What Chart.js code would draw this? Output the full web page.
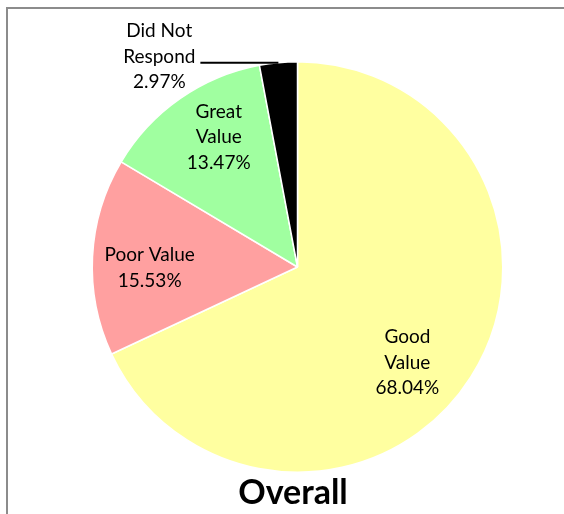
<!DOCTYPE html>
<html>
<head>
<meta charset="utf-8">
<script src="https://cdn.jsdelivr.net/npm/chart.js@4"></script>
<style>
  body { margin: 0; background: #fff; }
  canvas { display: block; }
</style>
</head>
<body>
<canvas id="overall" width="564" height="514"></canvas>
<script>
// data
const categories = [["Good", "Value"], ["Poor Value"], ["Great", "Value"], ["Did Not", "Respond"]];
const percents = [68.04, 15.53, 13.47, 2.97];
const sliceColors = ["#ffffa0", "#ffa0a0", "#a0ffa0", "#000000"];
const chartTitle = "Overall";

const FONT = "Lato, 'Open Sans', sans-serif";

// where each label sits: angle shift from slice middle (deg), distance as fraction of radius
const labelPlace = [
  { shift: 8.6, frac: 0.71 },
  { shift: -3.3, frac: 0.72 },
  { shift: 3.7, frac: 0.74 },
  { outside: true }
];

const labelsPlugin = {
  id: "sliceLabels",
  beforeDraw(chart) {
    const c = chart.ctx;
    c.save();
    c.strokeStyle = "#8c8c8c";
    c.lineWidth = 2;
    c.beginPath();
    c.moveTo(7, 514);
    c.lineTo(7, 8);
    c.lineTo(564, 8);
    c.stroke();
    c.restore();
  },
  afterDraw(chart) {
    const c = chart.ctx;
    const meta = chart.getDatasetMeta(0);
    c.save();
    c.fillStyle = "#000";
    c.font = "19px " + FONT;
    c.textAlign = "center";
    c.textBaseline = "middle";
    const lh = 25.5;
    meta.data.forEach((arc, i) => {
      const lines = categories[i].concat([percents[i].toFixed(2) + "%"]);
      const p = arc.getProps(["x", "y", "startAngle", "endAngle", "outerRadius"], true);
      const mid = (p.startAngle + p.endAngle) / 2;
      const place = labelPlace[i];
      let cx, cy;
      if (place.outside) {
        const ax = p.x + Math.cos(mid) * p.outerRadius;
        const ay = p.y + Math.sin(mid) * p.outerRadius;
        const endX = ax - 78;
        c.strokeStyle = "#000";
        c.lineWidth = 2;
        c.beginPath();
        c.moveTo(ax, ay);
        c.lineTo(endX, ay);
        c.stroke();
        const w = Math.max(...lines.map(l => c.measureText(l).width));
        cx = endX - 5 - w / 2;
        cy = ay - 6;
      } else {
        const a = mid + place.shift * Math.PI / 180;
        cx = p.x + Math.cos(a) * p.outerRadius * place.frac;
        cy = p.y + Math.sin(a) * p.outerRadius * place.frac;
      }
      const top = cy - (lines.length - 1) * lh / 2;
      lines.forEach((l, k) => c.fillText(l, cx, top + k * lh));
    });
    // title
    c.font = "bold 34px " + FONT;
    c.textBaseline = "alphabetic";
    c.fillText(chartTitle, 293, 504);
    c.restore();
  }
};

new Chart(document.getElementById("overall"), {
  type: "pie",
  data: {
    labels: categories,
    datasets: [{
      data: percents,
      backgroundColor: sliceColors,
      borderColor: "#ffffff",
      borderWidth: 1.5
    }]
  },
  options: {
    responsive: false,
    animation: false,
    layout: { padding: { left: 91, right: 60, top: 61, bottom: 41 } },
    plugins: {
      legend: { display: false },
      tooltip: { enabled: false }
    }
  },
  plugins: [labelsPlugin]
});
</script>
</body>
</html>
